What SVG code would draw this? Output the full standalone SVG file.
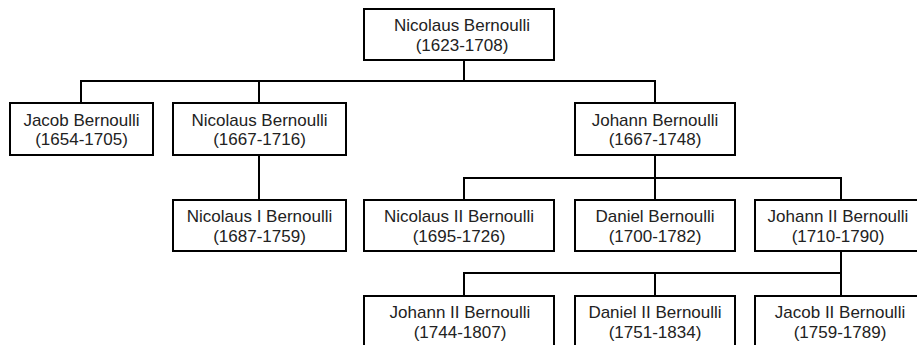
<svg xmlns="http://www.w3.org/2000/svg" width="917" height="345" viewBox="0 0 917 345">
<style>
rect.box { fill: #ffffff; stroke: #000000; stroke-width: 2; }
text { font-family: "Liberation Sans", Arial, sans-serif; font-size: 17px; fill: #222222; text-anchor: middle; }
.conn path { fill: none; stroke: #000000; stroke-width: 2; stroke-linejoin: miter; }
</style>
<rect width="917" height="345" fill="#ffffff"/>
<g id="connectors" class="conn">
  <path d="M464,60 V81"/>
  <path d="M81,103 V81 H655 V103"/>
  <path d="M259,81 V103"/>
  <path d="M259,155 V200"/>
  <path d="M655,155 V200"/>
  <path d="M464,200 V178 H841 V200"/>
  <path d="M841,251 V296"/>
  <path d="M464,296 V273 H841"/>
  <path d="M655,273 V296"/>
</g>
<g id="n_nicolaus_1623">
  <rect class="box" x="364" y="9" width="190" height="51"/>
  <text x="462" y="31">Nicolaus Bernoulli</text>
  <text x="462" y="51">(1623-1708)</text>
</g>
<g id="n_jacob_1654">
  <rect class="box" x="10" y="103" width="143" height="52"/>
  <text x="81.5" y="125.5">Jacob Bernoulli</text>
  <text x="81.5" y="145">(1654-1705)</text>
</g>
<g id="n_nicolaus_1667">
  <rect class="box" x="173" y="103" width="173" height="52"/>
  <text x="259.5" y="125.5">Nicolaus Bernoulli</text>
  <text x="259.5" y="145">(1667-1716)</text>
</g>
<g id="n_johann_1667">
  <rect class="box" x="575" y="103" width="160" height="52"/>
  <text x="655" y="125.5">Johann Bernoulli</text>
  <text x="655" y="145">(1667-1748)</text>
</g>
<g id="n_nicolaus_i">
  <rect class="box" x="173" y="200" width="173" height="51"/>
  <text x="259.5" y="222">Nicolaus I Bernoulli</text>
  <text x="259.5" y="241.5">(1687-1759)</text>
</g>
<g id="n_nicolaus_ii">
  <rect class="box" x="364" y="200" width="190" height="51"/>
  <text x="459" y="222">Nicolaus II Bernoulli</text>
  <text x="459" y="241.5">(1695-1726)</text>
</g>
<g id="n_daniel">
  <rect class="box" x="575" y="200" width="160" height="51"/>
  <text x="655" y="222">Daniel Bernoulli</text>
  <text x="655" y="241.5">(1700-1782)</text>
</g>
<g id="n_johann_ii_1710">
  <rect class="box" x="755" y="200" width="172" height="51"/>
  <text x="838" y="222">Johann II Bernoulli</text>
  <text x="838" y="241.5">(1710-1790)</text>
</g>
<g id="n_johann_ii_1744">
  <rect class="box" x="364" y="296" width="190" height="51"/>
  <text x="460" y="318">Johann II Bernoulli</text>
  <text x="460" y="337.5">(1744-1807)</text>
</g>
<g id="n_daniel_ii">
  <rect class="box" x="575" y="296" width="160" height="51"/>
  <text x="655" y="318">Daniel II Bernoulli</text>
  <text x="655" y="337.5">(1751-1834)</text>
</g>
<g id="n_jacob_ii">
  <rect class="box" x="755" y="296" width="172" height="51"/>
  <text x="840" y="318">Jacob II Bernoulli</text>
  <text x="840" y="337.5">(1759-1789)</text>
</g>
</svg>
